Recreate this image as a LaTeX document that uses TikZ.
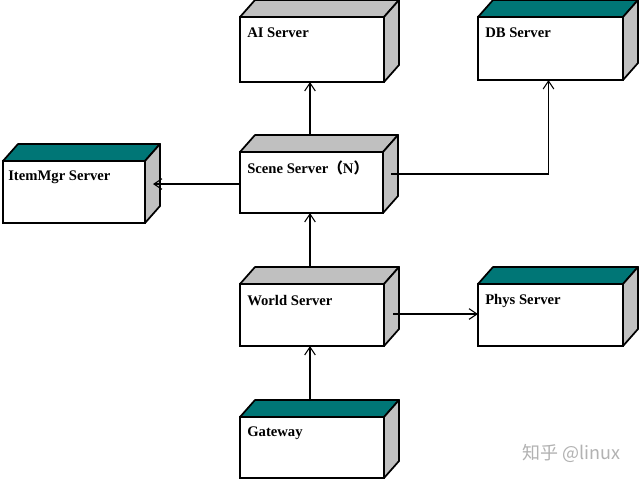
\documentclass[tikz,border=0pt]{standalone}
\usepackage{fontspec}
\setmainfont{Liberation Serif}
\newfontfamily\cjk{Noto Sans CJK SC}
\usetikzlibrary{arrows.meta,calc}
\definecolor{topteal}{RGB}{0,118,118}
\definecolor{sidegray}{RGB}{192,192,192}
\tikzset{
  frontface/.style={draw=black, line width=1.3pt, fill=white, anchor=north west, inner sep=0pt, outer sep=0pt},
  faceline/.style={draw=black, line width=1.3pt, line join=round},
  lbl/.style={anchor=west, inner sep=0pt, font=\bfseries\fontsize{11}{13}\selectfont},
  conn/.style={draw=black, line width=0.8pt, -{Straight Barb[length=6pt,width=8pt,line width=0.8pt]}},
}
\newcommand\srvbox[6]{%
  \node[frontface, minimum width={(#4-#2)*0.75pt}, minimum height={(#5-#3)*0.75pt}] (#1) at (#2,#3) {};
  \filldraw[faceline, fill=#6] (#1.north west) -- ($(#1.north west)+(15,-17)$) -- ($(#1.north east)+(15,-17)$) -- (#1.north east) -- cycle;
  \filldraw[faceline, fill=sidegray] (#1.north east) -- ($(#1.north east)+(15,-17)$) -- ($(#1.south east)+(15,-17)$) -- (#1.south east) -- cycle;
}
\begin{document}
\begin{tikzpicture}[x=0.75pt,y=-0.75pt]
\fill[white] (0,0) rectangle (640,480);
\useasboundingbox (0,0) rectangle (640,480);

\srvbox{ai}{240}{17}{384}{82}{sidegray}
\srvbox{db}{478}{17}{623}{80}{topteal}
\srvbox{item}{3}{161}{145}{223}{topteal}
\srvbox{scene}{240}{152}{383}{213}{sidegray}
\srvbox{world}{240}{284}{384}{346}{sidegray}
\srvbox{phys}{478}{284}{623}{346}{topteal}
\srvbox{gate}{240}{417}{384}{478}{topteal}

\node[lbl] (ai-t) at ($(ai.north west)+(7,16)$) {AI Server};
\node[lbl] (db-t) at ($(db.north west)+(7,16)$) {DB Server};
\node[lbl] (item-t) at ($(item.north west)+(5,16)$) {ItemMgr Server};
\node[lbl] (scene-t) at ($(scene.north west)+(7,16)$) {Scene Server{\cjk （}N{\cjk ）}};
\node[lbl] (world-t) at ($(world.north west)+(7,17)$) {World Server};
\node[lbl] (phys-t) at ($(phys.north west)+(7,17)$) {Phys Server};
\node[lbl] (gate-t) at ($(gate.north west)+(7,16)$) {Gateway};

% connectors
\coordinate (sc-top) at ($(scene.north)+(-1.5,-17)$);
\draw[conn] (sc-top) -- (sc-top |- ai.south);
\coordinate (sc-right) at ($(scene.east)+(8,-8.5)$);
\draw[conn] (sc-right) -| ($(db.south)+(-2,0)$);
\coordinate (sc-left) at ($(scene.west)+(0,1.5)$);
\coordinate (item-face) at ($(item.east)+(8,-8.5)$);
\draw[conn] (sc-left) -- (sc-left -| item-face);
\coordinate (wo-top) at ($(world.north)+(-2,-17)$);
\draw[conn] (wo-top) -- (wo-top |- scene.south);
\coordinate (wo-right) at ($(world.east)+(9,-1)$);
\draw[conn] (wo-right) -- (wo-right -| phys.west);
\coordinate (ga-top) at ($(gate.north)+(-2,-16)$);
\draw[conn] (ga-top) -- (ga-top |- world.south);

\node[text=black!30, font=\cjk\fontsize{13.5}{15}\selectfont] (wm) at (571,453) {知乎 @linux};
\end{tikzpicture}
\end{document}
